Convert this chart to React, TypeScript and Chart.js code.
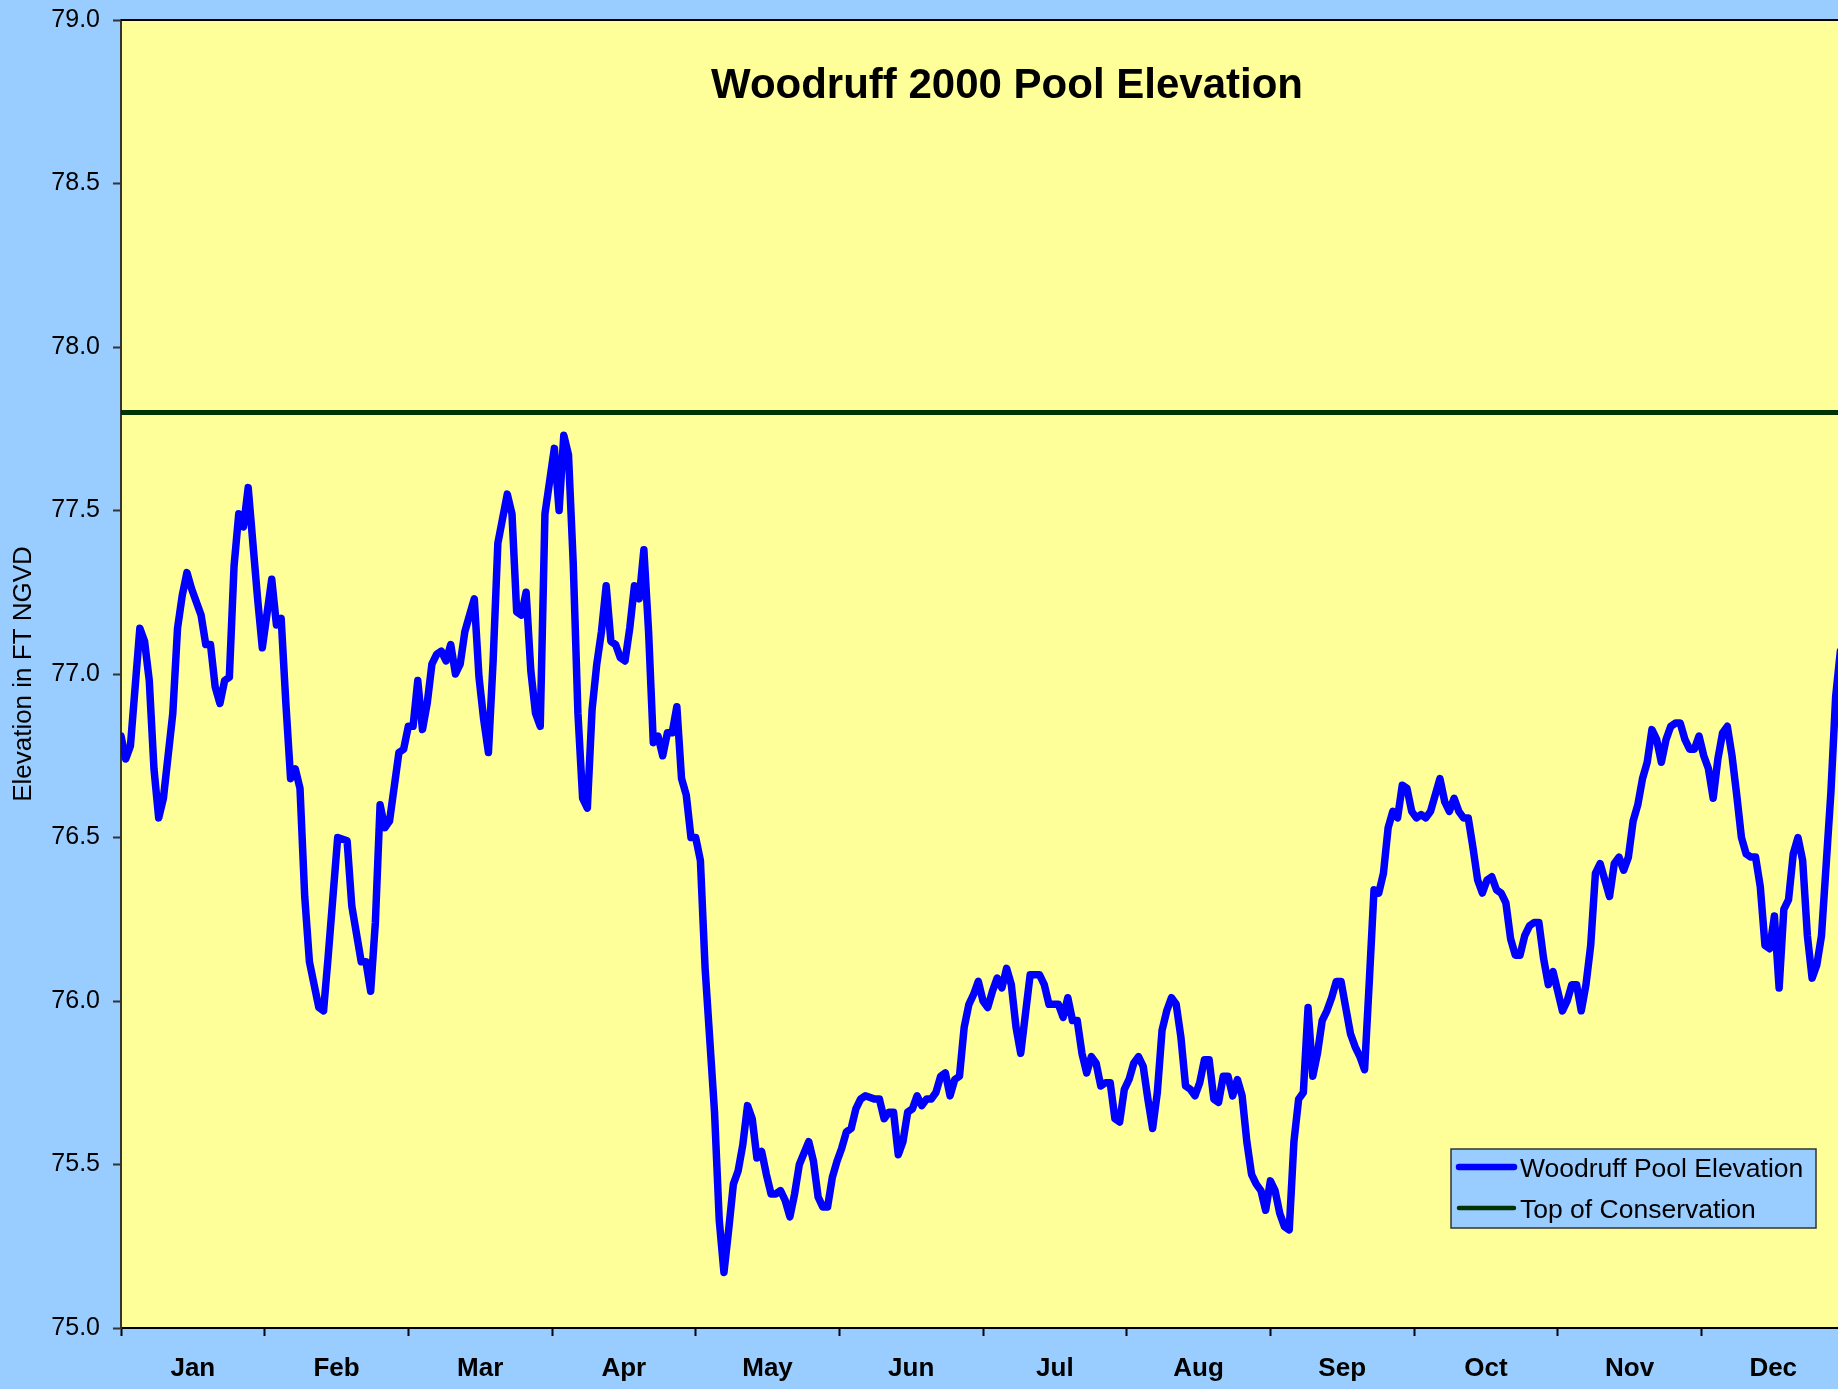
import React, { useEffect, useRef } from 'react';
import { Chart, registerables } from 'chart.js';

Chart.register(...registerables);

// ---------- data ----------
const chartTitle = 'Woodruff 2000 Pool Elevation';
const yAxisTitle = 'Elevation in FT NGVD';
const seriesNames = ['Woodruff Pool Elevation', 'Top of Conservation'];
const monthLabels = ['Jan', 'Feb', 'Mar', 'Apr', 'May', 'Jun', 'Jul', 'Aug', 'Sep', 'Oct', 'Nov', 'Dec'];
const yMin = 75.0;
const yMax = 79.0;
const yStep = 0.5;

// day of year 2000 (0 = Jan 1)
const dayOfYear = [
  0, 1, 2, 4, 5, 6, 7, 8, 9, 11, 12, 13, 14, 15, 17, 18, 19, 20, 21, 22, 23, 24, 25, 26, 27, 29, 30,
  32, 33, 34, 35, 36, 37, 38, 39, 40, 41, 42, 43, 44, 45, 46, 48, 49, 51, 52, 53, 54, 55, 56, 57, 59,
  60, 61, 62, 63, 64, 65, 66, 67, 68, 69, 70, 71, 72, 73, 74, 75, 76, 77, 78, 79, 80, 82, 83, 84, 85,
  86, 87, 88, 89, 90, 92, 93, 94, 95, 96, 97, 98, 99, 100, 101, 102, 103, 104, 105, 106, 107, 108,
  109, 110, 111, 112, 113, 114, 115, 116, 117, 118, 119, 120, 121, 122, 123, 124, 125, 126, 127, 128,
  129, 130, 131, 132, 133, 134, 135, 136, 137, 138, 139, 140, 141, 142, 143, 144, 146, 147, 148, 149,
  150, 151, 152, 153, 154, 155, 156, 157, 158, 160, 161, 162, 163, 164, 165, 166, 167, 168, 169, 170,
  171, 172, 173, 174, 175, 176, 177, 178, 179, 180, 181, 182, 183, 184, 185, 186, 187, 188, 189, 190,
  191, 192, 193, 194, 195, 196, 197, 198, 199, 200, 201, 202, 203, 204, 205, 206, 207, 208, 209, 210,
  211, 212, 213, 214, 215, 216, 217, 218, 219, 220, 221, 222, 223, 224, 225, 226, 227, 228, 229, 230,
  231, 232, 233, 234, 235, 236, 237, 238, 239, 240, 241, 242, 243, 244, 245, 246, 247, 248, 249, 250,
  251, 252, 253, 254, 255, 256, 257, 258, 259, 260, 261, 262, 263, 264, 265, 266, 267, 268, 269, 270,
  271, 272, 273, 274, 275, 276, 277, 278, 279, 280, 281, 282, 283, 284, 285, 286, 287, 288, 289, 290,
  291, 292, 293, 294, 295, 296, 297, 298, 299, 300, 301, 302, 303, 304, 305, 306, 307, 308, 309, 310,
  311, 312, 313, 314, 315, 316, 317, 318, 319, 320, 321, 322, 323, 324, 325, 326, 327, 328, 329, 330,
  331, 332, 333, 334, 335, 336, 337, 338, 339, 340, 341, 342, 343, 344, 345, 346, 347, 348, 349, 350,
  351, 352, 353, 354, 355, 356, 357, 358, 359, 360, 361, 362, 363, 364, 365,
];

// Woodruff pool elevation, ft NGVD
const poolElevation = [
  76.81, 76.74, 76.78, 77.14, 77.10, 76.98, 76.71, 76.56, 76.62, 76.88, 77.14, 77.24, 77.31, 77.26, 77.18,
  77.09, 77.09, 76.96, 76.91, 76.98, 76.99, 77.33, 77.49, 77.45, 77.57, 77.23, 77.08,
  77.29, 77.15, 77.17, 76.91, 76.68, 76.71, 76.65, 76.32, 76.12, 76.05, 75.98, 75.97, 76.14, 76.32, 76.50,
  76.49, 76.29, 76.12, 76.12, 76.03, 76.24, 76.60, 76.53, 76.55, 76.76,
  76.77, 76.84, 76.84, 76.98, 76.83, 76.91, 77.03, 77.06, 77.07, 77.04, 77.09, 77.00, 77.03, 77.13, 77.18,
  77.23, 76.99, 76.86, 76.76, 77.04, 77.40, 77.55, 77.49, 77.19, 77.18,
  77.25, 77.01, 76.88, 76.84, 77.49, 77.69, 77.50, 77.73, 77.67, 77.34, 76.88, 76.62, 76.59, 76.89, 77.03,
  77.13, 77.27, 77.10, 77.09, 77.05, 77.04, 77.14,
  77.27, 77.23, 77.38, 77.13, 76.79, 76.81, 76.75, 76.82, 76.82, 76.90, 76.68, 76.63, 76.50, 76.50, 76.43,
  76.10, 75.88, 75.66, 75.33, 75.17,
  75.30, 75.44, 75.48, 75.56, 75.68, 75.64, 75.52, 75.54, 75.47, 75.41, 75.41, 75.42, 75.39, 75.34, 75.41,
  75.50, 75.57, 75.51, 75.40, 75.37,
  75.37, 75.46, 75.51, 75.55, 75.60, 75.61, 75.67, 75.70, 75.71, 75.70, 75.70, 75.64, 75.66, 75.66, 75.53,
  75.57, 75.66, 75.67, 75.71, 75.68,
  75.70, 75.70, 75.72, 75.77, 75.78, 75.71, 75.76, 75.77, 75.92, 75.99, 76.02, 76.06, 76.00, 75.98, 76.03,
  76.07, 76.04, 76.10, 76.05, 75.92,
  75.84, 75.96, 76.08, 76.08, 76.08, 76.05, 75.99, 75.99, 75.99, 75.95, 76.01, 75.94, 75.94, 75.84, 75.78,
  75.83, 75.81, 75.74, 75.75, 75.75,
  75.64, 75.63, 75.73, 75.76, 75.81, 75.83, 75.80, 75.70, 75.61, 75.72, 75.91, 75.97, 76.01, 75.99, 75.89,
  75.74, 75.73, 75.71, 75.75, 75.82,
  75.82, 75.70, 75.69, 75.77, 75.77, 75.71, 75.76, 75.71, 75.57, 75.47, 75.44, 75.42, 75.36, 75.45, 75.42,
  75.35, 75.31, 75.30, 75.57, 75.70,
  75.72, 75.98, 75.77, 75.84, 75.94, 75.97, 76.01, 76.06, 76.06, 75.98, 75.90, 75.86, 75.83, 75.79, 76.06,
  76.34, 76.33, 76.39, 76.53, 76.58,
  76.56, 76.66, 76.65, 76.58, 76.56, 76.57, 76.56, 76.58, 76.63, 76.68, 76.61, 76.58, 76.62, 76.58, 76.56,
  76.56, 76.47, 76.37, 76.33, 76.37,
  76.38, 76.34, 76.33, 76.30, 76.19, 76.14, 76.14, 76.20, 76.23, 76.24, 76.24, 76.13, 76.05, 76.09, 76.03,
  75.97, 76.00, 76.05, 76.05, 75.97,
  76.05, 76.17, 76.39, 76.42, 76.37, 76.32, 76.42, 76.44, 76.40, 76.44, 76.55, 76.60, 76.68, 76.73, 76.83,
  76.80, 76.73, 76.80, 76.84, 76.85,
  76.85, 76.80, 76.77, 76.77, 76.81, 76.75, 76.71, 76.62, 76.74, 76.82, 76.84, 76.75, 76.63, 76.50, 76.45,
  76.44, 76.44, 76.35, 76.17, 76.16,
  76.26, 76.04, 76.28, 76.31, 76.45, 76.50, 76.43, 76.20, 76.07, 76.11, 76.20, 76.42, 76.64, 76.93, 77.07,
];

// Top of conservation pool, ft NGVD
const conservationDays = [0, 365];
const conservationLevel = [77.8, 77.8];

// ---------- layout / style ----------
const W = 1838;
const H = 1389;
const FONT = '"Liberation Sans", Arial, Helvetica, sans-serif';
const DAYS_PER_MONTH = 366 / 12;
const X_MAX = 364.5;
const BLUE = '#0000FF';
const GREEN = '#003300';
const OUTER_BG = '#99CCFF';
const PLOT_BG = '#FFFF99';

const monthTickValues: number[] = [];
monthLabels.forEach((_, i) => {
  monthTickValues.push(i * DAYS_PER_MONTH);
  monthTickValues.push(i * DAYS_PER_MONTH + DAYS_PER_MONTH / 2);
});

const decorPlugin = {
  id: 'decor',
  beforeDraw(chart: any) {
    const { ctx, chartArea: a } = chart;
    ctx.save();
    ctx.fillStyle = OUTER_BG;
    ctx.fillRect(0, 0, chart.width, chart.height);
    ctx.fillStyle = PLOT_BG;
    ctx.fillRect(a.left, a.top, a.right - a.left, a.bottom - a.top);
    ctx.restore();
  },
  afterDraw(chart: any) {
    const { ctx, chartArea: a } = chart;
    ctx.save();
    // top border of plot area
    ctx.strokeStyle = '#000';
    ctx.lineWidth = 2;
    ctx.beginPath();
    ctx.moveTo(a.left, a.top);
    ctx.lineTo(a.right, a.top);
    ctx.stroke();

    // title inside the plot
    ctx.fillStyle = '#000';
    ctx.font = `bold 42px ${FONT}`;
    ctx.textAlign = 'center';
    ctx.textBaseline = 'alphabetic';
    ctx.fillText(chartTitle, 1007, 98);

    // y axis title
    ctx.save();
    ctx.translate(24, (a.top + a.bottom) / 2);
    ctx.rotate(-Math.PI / 2);
    ctx.font = `26px ${FONT}`;
    ctx.textAlign = 'center';
    ctx.textBaseline = 'middle';
    ctx.fillText(yAxisTitle, 0, 0);
    ctx.restore();

    // legend box
    const bx = a.right - 387;
    const by = a.bottom - 179;
    const bw = 365;
    const bh = 79;
    ctx.fillStyle = OUTER_BG;
    ctx.fillRect(bx, by, bw, bh);
    ctx.strokeStyle = '#333';
    ctx.lineWidth = 1.5;
    ctx.strokeRect(bx, by, bw, bh);
    const items = chart.data.datasets;
    const rowY = [by + 18, by + 59];
    items.forEach((ds: any, i: number) => {
      ctx.strokeStyle = ds.borderColor;
      ctx.lineWidth = i === 0 ? 6.5 : 4.5;
      ctx.lineCap = 'round';
      ctx.beginPath();
      ctx.moveTo(bx + 8, rowY[i]);
      ctx.lineTo(bx + 63, rowY[i]);
      ctx.stroke();
      ctx.fillStyle = '#000';
      ctx.font = `26.5px ${FONT}`;
      ctx.textAlign = 'left';
      ctx.textBaseline = 'middle';
      ctx.fillText(ds.label, bx + 69, rowY[i] + 3);
    });
    ctx.restore();
  },
};

export default function App() {
  const canvasRef = useRef<HTMLCanvasElement | null>(null);

  useEffect(() => {
    if (!canvasRef.current) return;
    const chart = new Chart(canvasRef.current, {
      type: 'line',
      data: {
        datasets: [
          {
            label: seriesNames[0],
            data: dayOfYear.map((d, i) => ({ x: d, y: poolElevation[i] })),
            borderColor: BLUE,
            backgroundColor: BLUE,
            borderWidth: 7.5,
            tension: 0,
            pointRadius: 0,
            borderJoinStyle: 'round',
            borderCapStyle: 'round',
          },
          {
            label: seriesNames[1],
            data: conservationDays.map((d, i) => ({ x: d, y: conservationLevel[i] })),
            borderColor: GREEN,
            backgroundColor: GREEN,
            borderWidth: 5,
            tension: 0,
            pointRadius: 0,
          },
        ],
      },
      options: {
        responsive: false,
        animation: false,
        layout: { padding: { top: 20, right: 0, bottom: 0, left: 0 } },
        plugins: {
          legend: { display: false },
          tooltip: { enabled: false },
          title: { display: false },
        },
        scales: {
          x: {
            type: 'linear',
            min: 0,
            max: X_MAX,
            afterBuildTicks: (scale: any) => {
              scale.ticks = monthTickValues.map((v) => ({ value: v }));
            },
            afterFit: (scale: any) => {
              scale.height = 61;
              scale.paddingLeft = 0;
              scale.paddingRight = 0;
            },
            ticks: {
              autoSkip: false,
              maxRotation: 0,
              minRotation: 0,
              padding: 17,
              color: '#000',
              font: { family: FONT, size: 26, weight: 'bold' },
              callback: (_v: any, i: number) => (i % 2 === 1 ? monthLabels[(i - 1) / 2] : ''),
            },
            grid: {
              drawOnChartArea: false,
              tickLength: 8,
              tickWidth: 2,
              tickColor: (c: any) => (c.index % 2 === 0 ? '#000' : 'rgba(0,0,0,0)'),
            },
            border: { display: true, color: '#000', width: 2 },
          },
          y: {
            type: 'linear',
            min: yMin,
            max: yMax,
            afterFit: (scale: any) => {
              scale.width = 121;
              scale.paddingTop = 0;
              scale.paddingBottom = 0;
            },
            ticks: {
              stepSize: yStep,
              padding: 13,
              color: '#000',
              font: { family: FONT, size: 25 },
              callback: (v: any) => Number(v).toFixed(1),
            },
            grid: {
              drawOnChartArea: false,
              tickLength: 8,
              tickWidth: 2,
              tickColor: '#333',
            },
            border: { display: true, color: '#333', width: 2 },
          },
        },
      },
      plugins: [decorPlugin],
    } as any);
    return () => chart.destroy();
  }, []);

  return (
    <div style={{ position: 'fixed', left: 0, top: 0, width: W, height: H, overflow: 'hidden' }}>
      <canvas ref={canvasRef} width={W} height={H} style={{ display: 'block', width: W, height: H }} />
    </div>
  );
}
